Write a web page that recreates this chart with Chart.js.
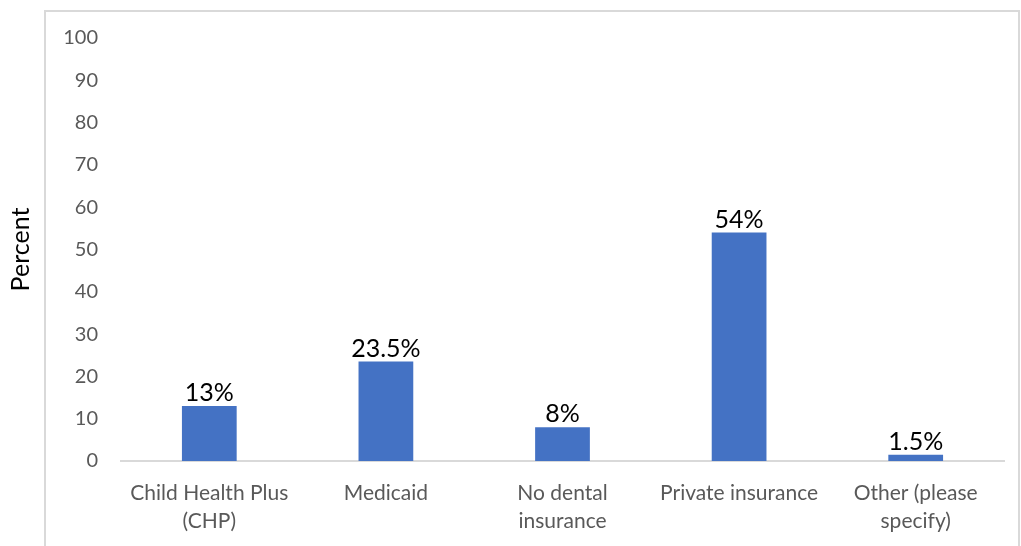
<!DOCTYPE html>
<html>
<head>
<meta charset="utf-8">
<script src="https://cdn.jsdelivr.net/npm/chart.js"></script>
<style>
  html, body { margin: 0; padding: 0; background: #fff; }
  #wrap { position: relative; width: 1021px; height: 546px; }
</style>
</head>
<body>
<div id="wrap"><canvas id="chart" width="1021" height="546"></canvas></div>
<script>
const categories = [
  ["Child Health Plus", "(CHP)"],
  "Medicaid",
  ["No dental", "insurance"],
  "Private insurance",
  ["Other (please", "specify)"]
];
const percents = [13, 23.5, 8, 54, 1.5];
const valueLabels = ["13%", "23.5%", "8%", "54%", "1.5%"];

const FONT = "Lato, 'Open Sans', sans-serif";

// light grey frame around the chart, open at the bottom
const framePlugin = {
  id: "frame",
  beforeDraw(chart) {
    const ctx = chart.ctx;
    ctx.save();
    ctx.strokeStyle = "#d9d9d9";
    ctx.lineWidth = 2;
    ctx.beginPath();
    ctx.moveTo(45, 546);
    ctx.lineTo(45, 11);
    ctx.lineTo(1019, 11);
    ctx.lineTo(1019, 546);
    ctx.stroke();
    ctx.restore();
  }
};

// percentage text above each bar
const valueLabelPlugin = {
  id: "valueLabels",
  afterDatasetsDraw(chart) {
    const ctx = chart.ctx;
    const meta = chart.getDatasetMeta(0);
    ctx.save();
    ctx.font = "25px " + FONT;
    ctx.fillStyle = "#000";
    ctx.textAlign = "center";
    ctx.textBaseline = "alphabetic";
    meta.data.forEach((bar, i) => {
      ctx.fillText(valueLabels[i], bar.x, bar.y - 5);
    });
    ctx.restore();
  }
};

new Chart(document.getElementById("chart"), {
  type: "bar",
  data: {
    labels: categories,
    datasets: [{
      data: percents,
      backgroundColor: "#4472c4",
      categoryPercentage: 1,
      barPercentage: 0.31
    }]
  },
  options: {
    responsive: false,
    animation: false,
    layout: { padding: { top: 38, right: 17, bottom: 0, left: 0 } },
    plugins: {
      legend: { display: false },
      tooltip: { enabled: false }
    },
    scales: {
      x: {
        grid: { display: false, drawTicks: false },
        border: { display: true, color: "#d9d9d9", width: 2 },
        ticks: {
          color: "#595959",
          font: { family: FONT, size: 21, lineHeight: 1.33 },
          padding: 18,
          maxRotation: 0,
          autoSkip: false
        },
        afterFit(scale) { scale.height = 85; }
      },
      y: {
        min: 0,
        max: 100,
        grid: { display: false, drawTicks: false },
        border: { display: false },
        ticks: {
          stepSize: 10,
          color: "#595959",
          font: { family: FONT, size: 20 },
          padding: 23
        },
        title: {
          display: true,
          text: "Percent",
          color: "#000",
          font: { family: FONT, size: 25 },
          padding: { top: 6, bottom: 0 }
        },
        afterFit(scale) { scale.width = 121; }
      }
    }
  },
  plugins: [framePlugin, valueLabelPlugin]
});
</script>
</body>
</html>
